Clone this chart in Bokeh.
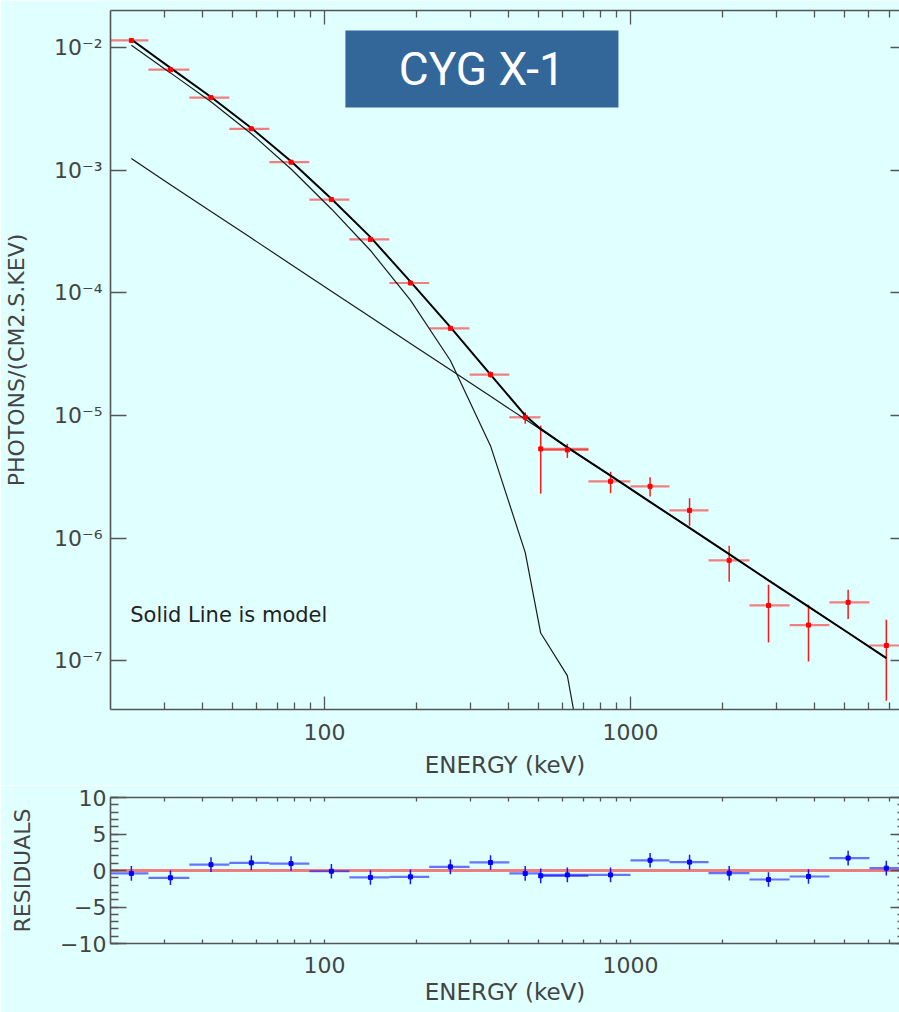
from bokeh.plotting import figure
from bokeh.models import (LogAxis, LinearAxis, FixedTicker, CustomJSTickFormatter,
                          BoxAnnotation, Label, Span, Range1d)
from bokeh.layouts import column
from bokeh.embed import file_html
from bokeh.resources import INLINE

# ---------------- data ----------------
energy = [23.4, 31.4, 42.6, 57.7, 77.8, 105.4, 141.4, 191, 258, 349, 453, 509, 622,
          861, 1159, 1560, 2102, 2825, 3817, 5143, 6855]
e_lo = [20.0, 26.6, 36.2, 48.9, 66.1, 89.3, 120.7, 163, 220, 298, 402, 508, 508,
        729, 1000, 1341, 1799, 2449, 3311, 4467, 6039]
e_hi = [26.6, 36.2, 48.9, 66.1, 89.3, 120.7, 163, 220, 298, 402, 508, 729, 729,
        1000, 1341, 1799, 2449, 3311, 4467, 6039, 8160]
flux = [1.14e-2, 6.58e-3, 3.89e-3, 2.17e-3, 1.16e-3, 5.75e-4, 2.72e-4, 1.20e-4, 5.13e-5,
        2.15e-5, 9.65e-6, 5.33e-6, 5.23e-6, 2.90e-6, 2.64e-6, 1.68e-6, 6.58e-7, 2.82e-7,
        1.95e-7, 2.99e-7, 1.33e-7]
flux_lo = [1.11e-2, 6.40e-3, 3.79e-3, 2.11e-3, 1.13e-3, 5.60e-4, 2.64e-4, 1.16e-4, 4.95e-5,
           2.03e-5, 8.53e-6, 2.30e-6, 4.50e-6, 2.32e-6, 2.18e-6, 1.26e-6, 4.41e-7, 1.41e-7,
           9.87e-8, 2.19e-7, 4.72e-8]
flux_hi = [1.17e-2, 6.76e-3, 3.99e-3, 2.23e-3, 1.19e-3, 5.90e-4, 2.80e-4, 1.24e-4, 5.31e-5,
           2.28e-5, 1.06e-5, 8.26e-6, 5.86e-6, 3.47e-6, 3.13e-6, 2.11e-6, 8.67e-7, 4.17e-7,
           2.86e-7, 3.78e-7, 2.16e-7]
model_total = [1.16e-2, 6.81e-3, 3.94e-3, 2.20e-3, 1.18e-3, 5.83e-4, 2.84e-4, 1.23e-4,
               5.24e-5, 2.15e-5, 1.0e-5, 7.76e-6, 5.49e-6, 3.23e-6, 1.97e-6, 1.21e-6,
               7.40e-7, 4.52e-7, 2.76e-7, 1.69e-7, 1.05e-7]
model_powerlaw = [1.24e-3, 7.60e-4, 4.59e-4, 2.79e-4, 1.70e-4, 1.03e-4, 6.35e-5, 3.86e-5,
                  2.35e-5, 1.43e-5, 9.29e-6, 7.66e-6, 5.51e-6, 3.22e-6, 1.97e-6, 1.21e-6,
                  7.38e-7, 4.53e-7, 2.75e-7, 1.69e-7, 1.05e-7]
model_cutoff = [1.04e-2, 6.2e-3, 3.6e-3, 1.98e-3, 1.02e-3, 4.82e-4, 2.21e-4, 8.7e-5,
                2.8e-5, 5.64e-6, 7.64e-7, 1.68e-7, 7.55e-8, 8.7e-10]
residuals = [-0.4, -1.0, 0.8, 1.05, 0.95, -0.1, -0.95, -0.87, 0.5, 1.1, -0.4, -0.73,
             -0.6, -0.6, 1.4, 1.15, -0.37, -1.23, -0.82, 1.7, 0.32]
res_lo = [r - 1.0 for r in residuals]
res_hi = [r + 1.0 for r in residuals]

x_major = [100, 1000]
x_minor = [30, 40, 50, 60, 70, 80, 90, 200, 300, 400, 500, 600, 700, 800, 900,
           2000, 3000, 4000, 5000, 6000, 7000]
y_major = [1e-7, 1e-6, 1e-5, 1e-4, 1e-3, 1e-2]
r_major = [-10, -5, 0, 5, 10]
r_minor = list(range(-10, 11))

# ---------------- style ----------------
BG = "#E0FFFF"
FONT = "DejaVu Sans"
TXT = "#444444"
AX = "#555555"
FS = "22px"


def pow_fmt():
    return CustomJSTickFormatter(code="""
const e = Math.round(Math.log10(tick));
const sup = {'-':'\\u207b','0':'\\u2070','1':'\\u00b9','2':'\\u00b2','3':'\\u00b3','4':'\\u2074',
             '5':'\\u2075','6':'\\u2076','7':'\\u2077','8':'\\u2078','9':'\\u2079'};
return '10' + String(e).split('').map(c => sup[c]).join('');
""")


def int_fmt():
    return CustomJSTickFormatter(code="return String(Math.round(tick));")


def res_fmt():
    return CustomJSTickFormatter(code="""
const v = Math.round(tick);
return v < 0 ? '\\u2212' + Math.abs(v) : String(v);
""")


def blank_fmt():
    return CustomJSTickFormatter(code="return '';")


def style_axis(ax, major_in, minor_in, labels=True, line=True, standoff=8, label_fs=FS):
    ax.major_tick_in = major_in
    ax.major_tick_out = 0
    ax.minor_tick_in = minor_in
    ax.minor_tick_out = 0
    ax.major_tick_line_color = AX
    ax.minor_tick_line_color = AX if minor_in > 0 else None
    ax.major_tick_line_width = 1.3
    ax.minor_tick_line_width = 1.3
    ax.axis_line_color = AX if line else None
    ax.axis_line_width = 1.6
    ax.major_label_text_font = FONT
    ax.major_label_text_color = TXT
    if labels:
        ax.major_label_text_font_size = FS
        ax.major_label_standoff = standoff
    else:
        ax.formatter = blank_fmt()
        ax.major_label_text_font_size = "1px"
        ax.major_label_standoff = 0
    ax.axis_label_text_font = FONT
    ax.axis_label_text_font_size = label_fs
    ax.axis_label_text_font_style = "normal"
    ax.axis_label_text_color = TXT


# ---------------- top panel ----------------
p1 = figure(width=899, height=785, x_axis_type="log", y_axis_type="log",
            x_range=Range1d(20, 7570), y_range=Range1d(4e-8, 2e-2),
            output_backend="svg", toolbar_location=None,
            min_border_left=110, min_border_right=0, min_border_top=10,
            min_border_bottom=76, background_fill_color=BG, border_fill_color=BG,
            outline_line_color=None)
p1.grid.visible = False

bx = p1.below[0]
bx.ticker = FixedTicker(ticks=x_major, minor_ticks=x_minor)
bx.formatter = int_fmt()
bx.axis_label = "ENERGY (keV)"
style_axis(bx, 13, 7, standoff=14, label_fs="23px")
bx.axis_label_standoff = 9

ly = p1.left[0]
ly.ticker = FixedTicker(ticks=y_major)
ly.formatter = pow_fmt()
ly.axis_label = "PHOTONS/(CM2.S.KEV)"
style_axis(ly, 16, 0, standoff=8)
ly.axis_label_standoff = 22

tx = LogAxis(ticker=FixedTicker(ticks=x_major, minor_ticks=x_minor))
style_axis(tx, 14, 7, labels=False)
p1.add_layout(tx, "above")

ry = LogAxis(ticker=FixedTicker(ticks=y_major))
style_axis(ry, 9, 0, labels=False, line=False)
p1.add_layout(ry, "right")

p1.segment(x0=e_lo, y0=flux, x1=e_hi, y1=flux, line_color="red", line_alpha=0.5,
           line_width=2.2)
p1.segment(x0=energy, y0=flux_lo, x1=energy, y1=flux_hi, line_color="red",
           line_alpha=0.9, line_width=1.5)
p1.line(energy, model_powerlaw, line_color="#1a1a1a", line_width=1.2)
p1.line(energy[:len(model_cutoff)], model_cutoff, line_color="#1a1a1a", line_width=1.2)
p1.line(energy, model_total, line_color="black", line_width=2)
p1.scatter(energy, flux, marker="square", size=4, color="red")

p1.add_layout(BoxAnnotation(left=117.1, right=913.7, bottom=3.24e-3, top=1.377e-2,
                            fill_color="#336699", fill_alpha=1.0, line_color=None))
p1.add_layout(Label(x=327, y=6.68e-3, text="CYG X-1", text_font="Roboto",
                    text_font_size="46px", text_color="white", text_align="center",
                    text_baseline="middle"))
p1.add_layout(Label(x=23.2, y=2.37e-7, text="Solid Line is model", text_font=FONT,
                    text_font_size="21px", text_color="#222222", text_baseline="middle"))

# ---------------- residual panel ----------------
p2 = figure(width=899, height=227, x_axis_type="log",
            x_range=p1.x_range, y_range=Range1d(-10, 10),
            output_backend="svg", toolbar_location=None,
            min_border_left=110, min_border_right=0, min_border_top=12,
            min_border_bottom=69, background_fill_color=BG, border_fill_color=BG,
            outline_line_color=None)
p2.grid.visible = False

bx2 = p2.below[0]
bx2.ticker = FixedTicker(ticks=x_major, minor_ticks=x_minor)
bx2.formatter = int_fmt()
bx2.axis_label = "ENERGY (keV)"
style_axis(bx2, 4, 4, standoff=13, label_fs="23px")
bx2.axis_label_standoff = 3

ly2 = p2.left[0]
ly2.ticker = FixedTicker(ticks=r_major, minor_ticks=r_minor)
ly2.formatter = res_fmt()
ly2.axis_label = "RESIDUALS"
style_axis(ly2, 16, 8, standoff=4)
ly2.axis_label_standoff = 22

tx2 = LogAxis(ticker=FixedTicker(ticks=x_major, minor_ticks=x_minor))
style_axis(tx2, 4, 4, labels=False)
p2.add_layout(tx2, "above")

ry2 = LinearAxis(ticker=FixedTicker(ticks=r_major, minor_ticks=r_minor))
style_axis(ry2, 9, 2, labels=False, line=False)
p2.add_layout(ry2, "right")

p2.add_layout(Span(location=0, dimension="width", line_color="#F07070",
                   line_width=3, line_alpha=0.9, level="underlay"))
p2.segment(x0=e_lo, y0=residuals, x1=e_hi, y1=residuals, line_color="blue",
           line_alpha=0.55, line_width=2.2)
p2.segment(x0=energy, y0=res_lo, x1=energy, y1=res_hi, line_color="blue",
           line_alpha=0.9, line_width=1.5)
p2.scatter(energy, residuals, marker="square", size=4, color="blue")

layout = column(p1, p2, spacing=0)
open("out.html", "w").write(file_html(layout, INLINE))
